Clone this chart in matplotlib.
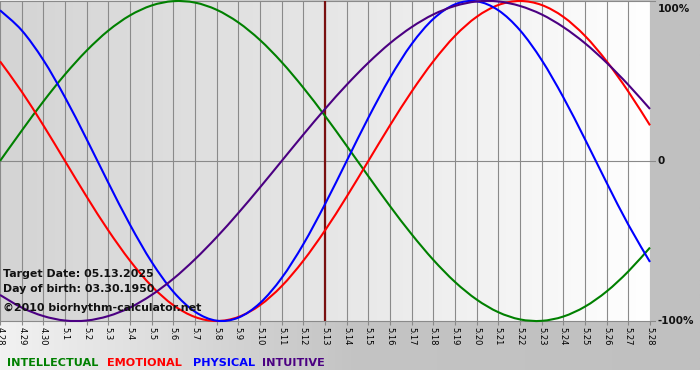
import numpy as np
import matplotlib
matplotlib.use("Agg")
import matplotlib.pyplot as plt
from matplotlib.colors import LinearSegmentedColormap
from matplotlib.path import Path
from matplotlib.patches import PathPatch

# ---- data ----
dates = ["4.28", "4.29", "4.30", "5.1", "5.2", "5.3", "5.4", "5.5", "5.6", "5.7",
         "5.8", "5.9", "5.10", "5.11", "5.12", "5.13", "5.14", "5.15", "5.16", "5.17",
         "5.18", "5.19", "5.20", "5.21", "5.22", "5.23", "5.24", "5.25", "5.26", "5.27", "5.28"]
intellectual = [0.000, 0.189, 0.372, 0.541, 0.690, 0.815, 0.910, 0.972, 0.999, 0.990,
                0.945, 0.866, 0.756, 0.618, 0.458, 0.282, 0.095, -0.095, -0.282, -0.458,
                -0.618, -0.756, -0.866, -0.945, -0.990, -0.999, -0.972, -0.910, -0.815,
                -0.690, -0.541]
emotional = [0.623, 0.434, 0.223, 0.000, -0.223, -0.434, -0.623, -0.782, -0.901, -0.975,
             -1.000, -0.975, -0.901, -0.782, -0.623, -0.434, -0.223, 0.000, 0.223, 0.434,
             0.623, 0.782, 0.901, 0.975, 1.000, 0.975, 0.901, 0.782, 0.623, 0.434, 0.223]
physical = [0.942, 0.817, 0.631, 0.398, 0.136, -0.136, -0.398, -0.631, -0.817, -0.942,
            -0.998, -0.979, -0.888, -0.731, -0.520, -0.270, 0.000, 0.270, 0.520, 0.731,
            0.888, 0.979, 0.998, 0.942, 0.817, 0.631, 0.398, 0.136, -0.136, -0.398, -0.631]
intuitive = [-0.837, -0.916, -0.969, -0.997, -0.997, -0.969, -0.916, -0.837, -0.736,
             -0.614, -0.476, -0.325, -0.165, 0.000, 0.165, 0.325, 0.476, 0.614, 0.736,
             0.837, 0.916, 0.969, 0.997, 0.997, 0.969, 0.916, 0.837, 0.736, 0.614,
             0.476, 0.325]
target_label = "5.13"
series_names = ["INTELLECTUAL", "EMOTIONAL", "PHYSICAL", "INTUITIVE"]
series_colors = ["#008000", "#ff0000", "#0000ff", "#4b0082"]
info_lines = ["Target Date: 05.13.2025", "Day of birth: 03.30.1950", "\u00a92010 biorhythm-calculator.net"]
y_labels = ["100%", "0", "-100%"]


def smooth_path(xs, ys):
    """Cubic Bezier (Catmull-Rom style) path passing through the data points."""
    pts = np.column_stack([np.asarray(xs, float), np.asarray(ys, float)])
    n = len(pts)
    verts = [pts[0]]
    codes = [Path.MOVETO]
    for i in range(n - 1):
        p0 = pts[i - 1] if i > 0 else pts[i]
        p1 = pts[i]
        p2 = pts[i + 1]
        p3 = pts[i + 2] if i + 2 < n else pts[i + 1]
        verts += [p1 + (p2 - p0) / 6.0, p2 - (p3 - p1) / 6.0, p2]
        codes += [Path.CURVE4] * 3
    return Path(verts, codes)


W, H = 700, 380
fig = plt.figure(figsize=(W / 100, H / 100), dpi=100, facecolor="white")

# background panel (gray gradient)
bg = fig.add_axes([0, 10 / H, 1, 370 / H])
bg.set_axis_off()
cm_bg = LinearSegmentedColormap.from_list("bg", ["#f2f2f2", "#c4c4c4", "#c0c0c0"])
bg.imshow(np.linspace(0, 1, 256).reshape(1, -1), cmap=cm_bg, aspect="auto",
          extent=[0, 1, 0, 1])
bg.set_xlim(0, 1)
bg.set_ylim(0, 1)

# plot area
ax = fig.add_axes([0, (H - 321) / H, 650 / W, 320 / H])
x = np.arange(len(dates))
ax.set_xlim(0, len(dates) - 1)
ax.set_ylim(-1, 1)
cm_plot = LinearSegmentedColormap.from_list("pl", ["#d4d4d4", "#e6e6e6", "#ffffff"])
ax.imshow(np.linspace(0, 1, 256).reshape(1, -1), cmap=cm_plot, aspect="auto",
          extent=[0, len(dates) - 1, -1, 1], zorder=0)

for xi in x:
    ax.axvline(xi, color="#8a8a8a", lw=0.8, zorder=1)
for yv in (-1, 0, 1):
    ax.plot([0, len(dates) - 1 + 0.25], [yv, yv], color="#8a8a8a", lw=0.8,
            zorder=1, clip_on=False)

ti = dates.index(target_label)
ax.axvline(ti, color="#7a1010", lw=1.6, zorder=2)

for vals, c in zip([intellectual, emotional, physical, intuitive], series_colors):
    patch = PathPatch(smooth_path(x, vals), facecolor="none", edgecolor=c, lw=1.5,
                      zorder=3, clip_on=False, joinstyle="round")
    ax.add_patch(patch)

for s in ax.spines.values():
    s.set_visible(False)
ax.set_yticks([])
ax.set_xticks(x)
ax.set_xticklabels(dates, rotation=-90, fontsize=6, color="black")
ax.tick_params(axis="x", length=3, width=0.8, color="#8a8a8a", pad=1)

# right labels
for yv, lab in zip((1, 0, -1), y_labels):
    ax.text(len(dates) - 1 + 0.35, yv - (0.05 if yv == 1 else 0), lab,
            fontsize=7.5, fontweight="bold", ha="left", va="center", color="#111111")

# info text
for yb, t in zip((277, 292, 311), info_lines):
    fig.text(3 / W, 1 - yb / H, t, fontsize=7.9, fontweight="bold", color="#111111",
             ha="left", va="baseline", zorder=10)

# legend words
for xp, name, c in zip((7, 107, 193, 262), series_names, series_colors):
    fig.text(xp / W, 1 - 366 / H, name, fontsize=8.1, fontweight="bold", color=c,
             ha="left", va="baseline")

fig.savefig("out.png", dpi=100, facecolor="white")
